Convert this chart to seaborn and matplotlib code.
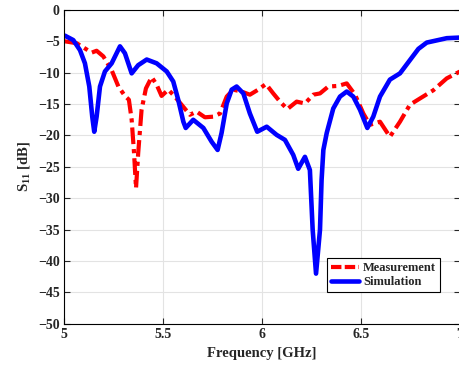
import matplotlib
matplotlib.use("Agg")
import matplotlib.pyplot as plt
import pandas
import seaborn as sns

# Simulation curve (GHz, dB)
sim_freq = [5.0, 5.005, 5.047, 5.081, 5.106, 5.128, 5.143, 5.153, 5.165, 5.182,
            5.207, 5.241, 5.283, 5.308, 5.342, 5.375, 5.418, 5.468, 5.519, 5.552,
            5.577, 5.603, 5.615, 5.653, 5.704, 5.746, 5.776, 5.796, 5.822, 5.847,
            5.872, 5.906, 5.939, 5.976, 6.024, 6.074, 6.116, 6.158, 6.183, 6.217,
            6.242, 6.256, 6.273, 6.293, 6.301, 6.31, 6.327, 6.36, 6.394, 6.428,
            6.461, 6.495, 6.532, 6.562, 6.596, 6.646, 6.697, 6.747, 6.79, 6.832,
            6.933, 7.0]
sim_s11 = [-4.2, -4.1, -4.8, -6.4, -8.5, -12.2, -17.0, -19.4, -17.0, -12.2,
           -9.8, -8.5, -5.8, -6.9, -10.1, -8.8, -7.9, -8.5, -9.8, -11.4,
           -14.3, -17.8, -18.8, -17.5, -18.8, -21.0, -22.3, -19.6, -14.9, -12.7,
           -12.2, -13.3, -16.5, -19.4, -18.6, -19.9, -20.7, -23.1, -25.3, -23.4,
           -25.5, -35.0, -42.0, -35.0, -27.1, -22.3, -19.6, -15.7, -13.8, -13.0,
           -13.8, -15.9, -18.8, -17.0, -13.8, -11.1, -10.1, -8.0, -6.2, -5.2,
           -4.5, -4.4]

# Measurement curve (GHz, dB)
meas_freq = [5.0, 5.005, 5.064, 5.14, 5.165, 5.199, 5.241, 5.275, 5.308, 5.328,
             5.342, 5.354, 5.364, 5.375, 5.392, 5.414, 5.443, 5.468, 5.493,
             5.527, 5.56, 5.594, 5.636, 5.67, 5.712, 5.754, 5.788, 5.822, 5.855,
             5.897, 5.939, 5.981, 6.02, 6.057, 6.091, 6.128, 6.175, 6.217, 6.259,
             6.293, 6.335, 6.385, 6.428, 6.47, 6.512, 6.545, 6.596, 6.646, 6.697,
             6.747, 6.798, 6.865, 6.933, 7.0]
meas_s11 = [-5.0, -5.0, -5.3, -6.8, -6.5, -7.4, -9.6, -12.2, -13.7, -14.3,
            -17.5, -22.8, -28.4, -22.8, -15.9, -12.5, -10.7, -11.9, -13.7,
            -12.7, -13.8, -15.1, -16.7, -16.2, -17.1, -17.0, -16.5, -13.8, -12.7,
            -13.0, -13.5, -12.7, -11.8, -13.3, -14.6, -15.8, -14.6, -14.9, -13.5,
            -13.3, -12.2, -12.1, -11.7, -13.5, -16.5, -18.3, -17.8, -20.2, -17.8,
            -15.1, -14.1, -12.8, -10.9, -9.8]

df = pandas.concat([
    pandas.DataFrame({"freq": meas_freq, "s11": meas_s11, "curve": "Measurement"}),
    pandas.DataFrame({"freq": sim_freq, "s11": sim_s11, "curve": "Simulation"}),
])

sns.set_style("whitegrid")
plt.rcParams["font.family"] = ["Liberation Serif", "DejaVu Serif"]
plt.rcParams["font.weight"] = "bold"
plt.rcParams["mathtext.fontset"] = "custom"
plt.rcParams["mathtext.rm"] = "Liberation Serif:bold"
plt.rcParams["mathtext.it"] = "Liberation Serif:bold"

fig = plt.figure(figsize=(4.6, 3.68), dpi=100)
ax = fig.add_axes([0.139, 0.12, 0.861, 0.853])

sns.lineplot(
    data=df,
    x="freq",
    y="s11",
    hue="curve",
    style="curve",
    sort=False,
    estimator=None,
    palette={"Measurement": "#ff0000", "Simulation": "#0000ff"},
    dashes={"Measurement": (4, 1.2, 1, 1.2), "Simulation": ""},
    ax=ax,
)
lines = ax.get_lines()
lines[0].set_linewidth(3.0)
lines[1].set_linewidth(3.3)
for line in lines:
    line.set_solid_joinstyle("round")
    line.set_dash_joinstyle("round")

ax.set_xlim(5, 7)
ax.set_ylim(-50, 0)
ax.set_xticks([5, 5.5, 6, 6.5, 7])
ax.set_xticklabels(["5", "5.5", "6", "6.5", "7"])
ax.set_yticks(range(-50, 1, 5))
ax.tick_params(direction="in", length=4, width=0.8, labelsize=10,
               top=True, right=True, bottom=True, left=True, pad=3)
ax.grid(True, color="#e3e3e3", linewidth=0.8)
for spine in ax.spines.values():
    spine.set_color("black")
    spine.set_linewidth(0.8)
ax.set_xlabel("Frequency [GHz]", fontsize=10.5, fontweight="bold")
ax.set_ylabel("S$_{11}$ [dB]", fontsize=10.5, fontweight="bold")

leg = ax.legend(
    title=None,
    loc="lower right",
    bbox_to_anchor=(0.965, 0.081),
    fontsize=9,
    frameon=True,
    fancybox=False,
    edgecolor="black",
    framealpha=1,
    handlelength=2.3,
    borderpad=0.3,
    labelspacing=0.2,
    handletextpad=0.3,
)
leg.get_frame().set_linewidth(0.8)
leg_lines = leg.get_lines()
leg_lines[0].set_linewidth(3.0)
leg_lines[0].set_dashes((2.5, 0.8))
leg_lines[1].set_linewidth(3.3)

fig.savefig("out.png", dpi=100)
